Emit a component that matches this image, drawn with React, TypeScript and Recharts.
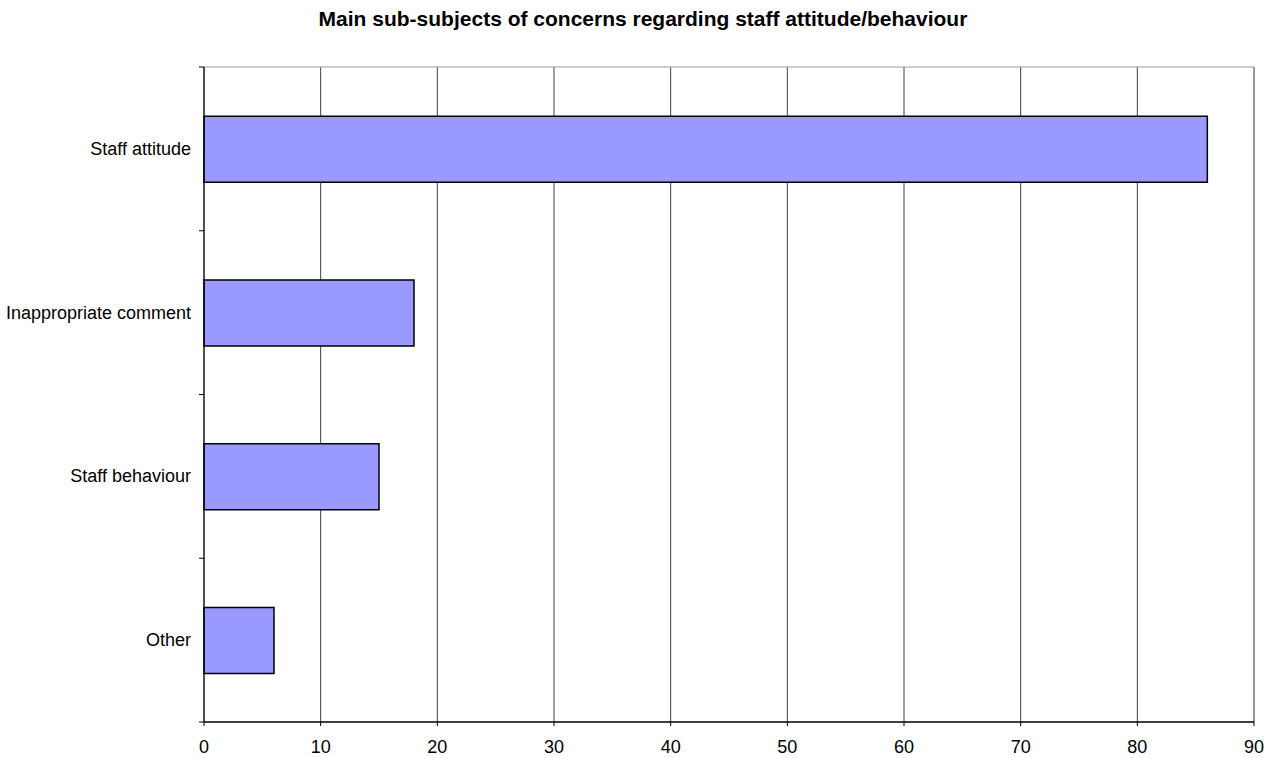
import { BarChart, Bar, XAxis, YAxis, CartesianGrid, ReferenceLine } from 'recharts';

const categories = ['Staff attitude', 'Inappropriate comment', 'Staff behaviour', 'Other'];
const counts = [86, 18, 15, 6];
const xTicks = [0, 10, 20, 30, 40, 50, 60, 70, 80, 90];

const data = categories.map((name, i) => ({ name, count: counts[i] }));

const PLOT_TOP = 67;
const PLOT_BOTTOM = 36;
const CHART_H = 758;
const BAND = (CHART_H - PLOT_TOP - PLOT_BOTTOM) / categories.length;

function CategoryTick(props: any) {
  const { x, y, payload, index } = props;
  const isLast = index === categories.length - 1;
  return (
    <g>
      <text x={x - 5} y={y} dy={6} textAnchor="end" fontSize={18} fill="#000" fontFamily="Liberation Sans, Arial, sans-serif">
        {payload.value}
      </text>
      <line x1={x + 3} x2={x + 8} y1={y - BAND / 2} y2={y - BAND / 2} stroke="#000" />
      {isLast && <line x1={x + 3} x2={x + 8} y1={y + BAND / 2} y2={y + BAND / 2} stroke="#000" />}
    </g>
  );
}

export default function App() {
  return (
    <div style={{ position: 'absolute', left: 0, top: 0, width: 1270, height: 758, background: '#fff', fontFamily: 'Liberation Sans, Arial, sans-serif' }}>
      <div style={{ position: 'absolute', left: 0, top: 6, width: 1286, textAlign: 'center', fontSize: 21, fontWeight: 'bold', lineHeight: '26px' }}>
        Main sub-subjects of concerns regarding staff attitude/behaviour
      </div>
      <BarChart
        width={1270}
        height={CHART_H}
        data={data}
        layout="vertical"
        margin={{ top: PLOT_TOP, right: 16, bottom: 0, left: 0 }}
        barCategoryGap="30%"
      >
        <CartesianGrid horizontal={false} stroke="#404040" strokeWidth={1} />
        <CartesianGrid vertical={false} horizontalCoordinatesGenerator={({ offset }: any) => [offset.top]} stroke="#9a9a9a" />
        <XAxis
          type="number"
          domain={[0, 90]}
          ticks={xTicks}
          height={PLOT_BOTTOM}
          axisLine={{ stroke: '#000', strokeWidth: 1.5 }}
          tickLine={{ stroke: '#000' }}
          tickSize={4}
          tickMargin={14}
          tick={{ fontSize: 18, fill: '#000' }}
        />
        <YAxis
          type="category"
          dataKey="name"
          width={204}
          axisLine={{ stroke: '#000' }}
          tickLine={false}
          tick={<CategoryTick />}
          interval={0}
        />
        <ReferenceLine x={90} stroke="#9a9a9a" strokeWidth={2} />
        <Bar dataKey="count" fill="#9999FF" stroke="#000" strokeWidth={1.5} isAnimationActive={false} />
      </BarChart>
    </div>
  );
}
